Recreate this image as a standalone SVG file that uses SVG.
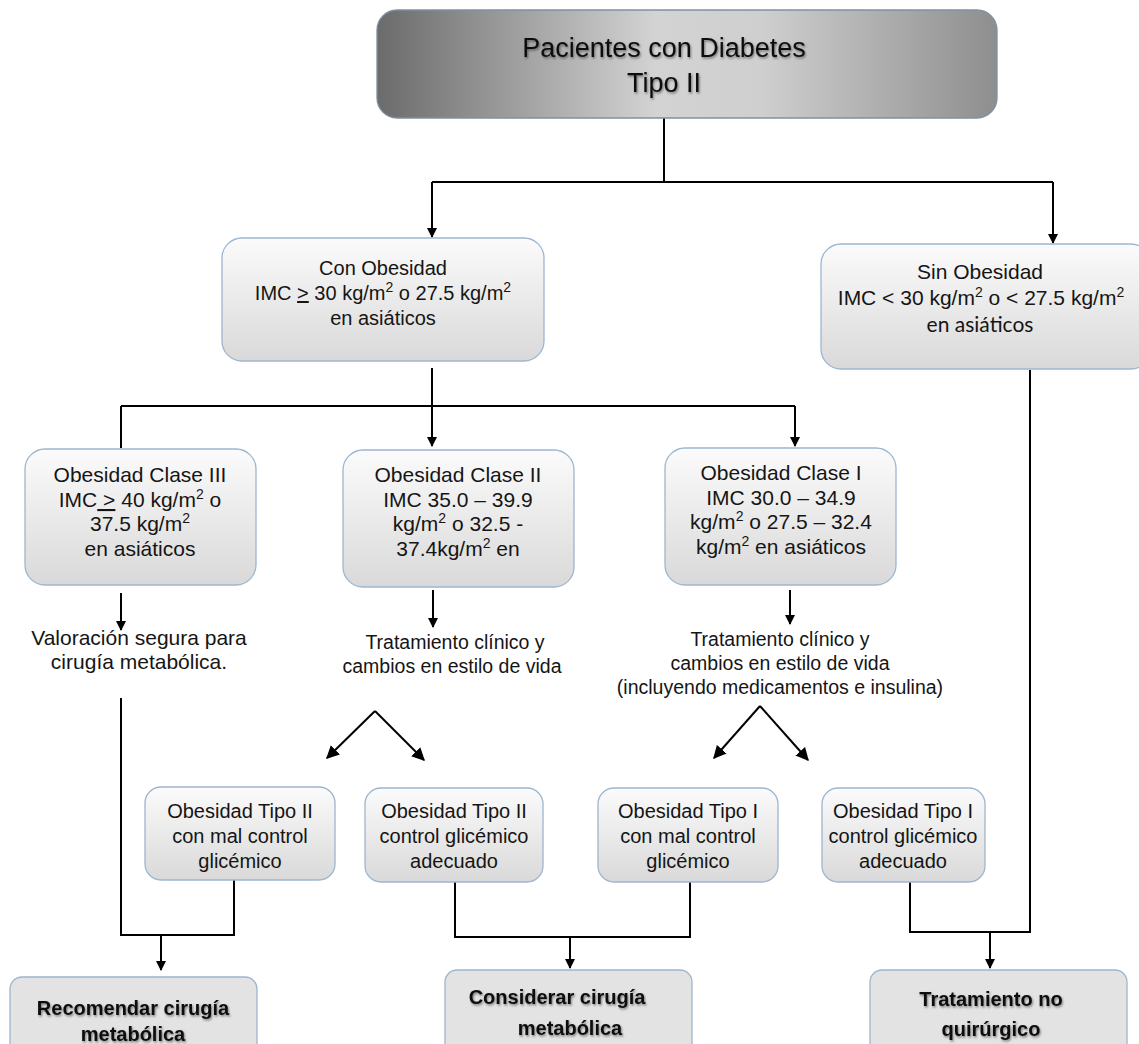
<svg xmlns="http://www.w3.org/2000/svg" width="1139" height="1044" viewBox="0 0 1139 1044">
<defs>
<linearGradient id="gTop" x1="0" y1="0" x2="1" y2="0">
<stop offset="0" stop-color="#6b6b6b"/>
<stop offset="0.45" stop-color="#d3d3d3"/>
<stop offset="0.62" stop-color="#cfcfcf"/>
<stop offset="1" stop-color="#8e8e8e"/>
</linearGradient>
<linearGradient id="gBox" x1="0" y1="0" x2="0" y2="1">
<stop offset="0" stop-color="#fbfbfb"/>
<stop offset="1" stop-color="#d9d9d9"/>
</linearGradient>
<filter id="sh" x="-10%" y="-20%" width="120%" height="150%">
<feDropShadow dx="1" dy="1.5" stdDeviation="1.2" flood-color="#000" flood-opacity="0.45"/>
</filter>
<marker id="ah" viewBox="0 0 10 10" refX="9" refY="5" markerWidth="10" markerHeight="10" markerUnits="userSpaceOnUse" orient="auto">
<path d="M0,0 L10,5 L0,10 z" fill="#000"/>
</marker>
<marker id="ah2" viewBox="0 0 10 10" refX="9" refY="5" markerWidth="13" markerHeight="13" markerUnits="userSpaceOnUse" orient="auto">
<path d="M0,0 L10,5 L0,10 z" fill="#000"/>
</marker>
</defs>
<style>
.box{fill:url(#gBox);stroke:#9db6cf;stroke-width:1.3}
.bot{fill:#e3e3e3;stroke:#9db6cf;stroke-width:1.3}
.t{font-family:"Liberation Sans",Arial,sans-serif;font-size:20px;fill:#151515;text-anchor:middle}
.t21{font-size:21px}
.tf{font-size:19.5px}
.tv{font-size:21px}
.tc{font-family:Lato,"Noto Sans",sans-serif;font-size:21px;fill:#151515;text-anchor:middle}
.tt{font-family:"Liberation Sans",Arial,sans-serif;font-size:27px;fill:#111;text-anchor:middle}
.tb{font-family:"Liberation Sans",Arial,sans-serif;font-size:20px;font-weight:bold;fill:#111;text-anchor:middle}
.sup{font-size:14px}
.ln{fill:none;stroke:#000;stroke-width:2}
.ar{fill:none;stroke:#000;stroke-width:2;marker-end:url(#ah)}
.ar2{fill:none;stroke:#000;stroke-width:2;marker-end:url(#ah2)}
</style>
<rect width="1139" height="1044" fill="#fff"/>

<g id="connectors">
<path class="ln" d="M664,118 V182"/>
<path class="ln" d="M432,182 H1053"/>
<path class="ar" d="M432,182 V237"/>
<path class="ar" d="M1053,182 V243"/>
<path class="ar" d="M432,368 V446"/>
<path class="ln" d="M121,406 H795"/>
<path class="ln" d="M121,406 V448"/>
<path class="ar" d="M795,406 V446"/>
<path class="ar" d="M121,593 V630"/>
<path class="ar" d="M433,590 V627"/>
<path class="ar" d="M790,590 V624"/>
<path class="ar2" d="M375,711 L327,758"/>
<path class="ar2" d="M375,711 L424,760"/>
<path class="ar2" d="M760,706 L714,758"/>
<path class="ar2" d="M760,706 L808,760"/>
<path class="ln" d="M121,698 V935 H234 V880"/>
<path class="ar" d="M161,935 V970"/>
<path class="ln" d="M455,882 V937 H690 V882"/>
<path class="ar" d="M570,937 V968"/>
<path class="ln" d="M1030,370 V932 H910 V882"/>
<path class="ar" d="M990,932 V968"/>
</g>

<g id="n-top">
<rect x="377" y="10" width="620" height="108" rx="20" fill="url(#gTop)" stroke="#7f90a3" stroke-width="1.3"/>
<text class="tt" x="664" y="57" filter="url(#sh)">Pacientes con Diabetes</text>
<text class="tt" x="664" y="92" filter="url(#sh)">Tipo II</text>
</g>

<g id="n-con">
<rect class="box" x="222" y="238" width="322" height="123" rx="20"/>
<text class="t" x="383" y="275">Con Obesidad</text>
<text class="t" x="383" y="300">IMC <tspan text-decoration="underline">&gt;</tspan> 30 kg/m<tspan class="sup" baseline-shift="super">2</tspan> o 27.5 kg/m<tspan class="sup" baseline-shift="super">2</tspan></text>
<text class="t" x="383" y="325">en asiáticos</text>
</g>

<g id="n-sin">
<rect class="box" x="821" y="244" width="330" height="125" rx="20"/>
<text class="t t21" x="980" y="279">Sin Obesidad</text>
<text class="t t21" x="981" y="305">IMC &lt; 30 kg/m<tspan class="sup" baseline-shift="super">2</tspan> o &lt; 27.5 kg/m<tspan class="sup" baseline-shift="super">2</tspan></text>
<text class="tc" x="980" y="332">en asiáticos</text>
</g>

<g id="n-c3">
<rect class="box" x="25" y="449" width="231" height="136" rx="20"/>
<text class="t t21" x="140" y="482">Obesidad Clase III</text>
<text class="t t21" x="140" y="507">IMC<tspan text-decoration="underline"> &gt;</tspan> 40 kg/m<tspan class="sup" baseline-shift="super">2</tspan> o</text>
<text class="t t21" x="140" y="531">37.5 kg/m<tspan class="sup" baseline-shift="super">2</tspan></text>
<text class="t t21" x="140" y="556">en asiáticos</text>
</g>

<g id="n-c2">
<rect class="box" x="343" y="450" width="231" height="137" rx="20"/>
<text class="t t21" x="458" y="482">Obesidad Clase II</text>
<text class="t t21" x="458" y="507">IMC 35.0 – 39.9</text>
<text class="t t21" x="458" y="531">kg/m<tspan class="sup" baseline-shift="super">2</tspan> o 32.5 -</text>
<text class="t t21" x="458" y="556">37.4kg/m<tspan class="sup" baseline-shift="super">2</tspan> en</text>
</g>

<g id="n-c1">
<rect class="box" x="665" y="448" width="231" height="137" rx="20"/>
<text class="t t21" x="781" y="480">Obesidad Clase I</text>
<text class="t t21" x="781" y="505">IMC 30.0 – 34.9</text>
<text class="t t21" x="781" y="529">kg/m<tspan class="sup" baseline-shift="super">2</tspan> o 27.5 – 32.4</text>
<text class="t t21" x="781" y="554">kg/m<tspan class="sup" baseline-shift="super">2</tspan> en asiáticos</text>
</g>

<g id="n-valoracion">
<text class="t tv" x="139" y="645">Valoración segura para</text>
<text class="t tv" x="139" y="669">cirugía metabólica.</text>
</g>

<g id="n-trat2">
<text class="t tf" x="455" y="649">Tratamiento clínico y</text>
<text class="t tf" x="452" y="673">cambios en estilo de vida</text>
</g>

<g id="n-trat1">
<text class="t tf" x="780" y="646">Tratamiento clínico y</text>
<text class="t tf" x="780" y="670">cambios en estilo de vida</text>
<text class="t tf" x="780" y="694">(incluyendo medicamentos e insulina)</text>
</g>

<g id="n-t2mal">
<rect class="box" x="145" y="787" width="190" height="93" rx="16"/>
<text class="t" x="240" y="818">Obesidad Tipo II</text>
<text class="t" x="240" y="843">con mal control</text>
<text class="t" x="240" y="868">glicémico</text>
</g>

<g id="n-t2ok">
<rect class="box" x="365" y="788" width="178" height="94" rx="16"/>
<text class="t" x="454" y="818">Obesidad Tipo II</text>
<text class="t" x="454" y="843">control glicémico</text>
<text class="t" x="454" y="868">adecuado</text>
</g>

<g id="n-t1mal">
<rect class="box" x="598" y="788" width="180" height="94" rx="16"/>
<text class="t" x="688" y="818">Obesidad Tipo I</text>
<text class="t" x="688" y="843">con mal control</text>
<text class="t" x="688" y="868">glicémico</text>
</g>

<g id="n-t1ok">
<rect class="box" x="822" y="788" width="163" height="94" rx="16"/>
<text class="t" x="903" y="818">Obesidad Tipo I</text>
<text class="t" x="903" y="843">control glicémico</text>
<text class="t" x="903" y="868">adecuado</text>
</g>

<g id="n-recomendar">
<rect class="bot" x="10" y="977" width="247" height="80" rx="12"/>
<text class="tb" x="133" y="1015" filter="url(#sh)">Recomendar cirugía</text>
<text class="tb" x="133" y="1041" filter="url(#sh)">metabólica</text>
</g>

<g id="n-considerar">
<rect class="bot" x="445" y="970" width="247" height="85" rx="12"/>
<text class="tb" x="557" y="1004" filter="url(#sh)">Considerar cirugía</text>
<text class="tb" x="570" y="1035" filter="url(#sh)">metabólica</text>
</g>

<g id="n-notrat">
<rect class="bot" x="870" y="970" width="257" height="85" rx="12"/>
<text class="tb" x="991" y="1006" filter="url(#sh)">Tratamiento no</text>
<text class="tb" x="991" y="1036" filter="url(#sh)">quirúrgico</text>
</g>
</svg>
